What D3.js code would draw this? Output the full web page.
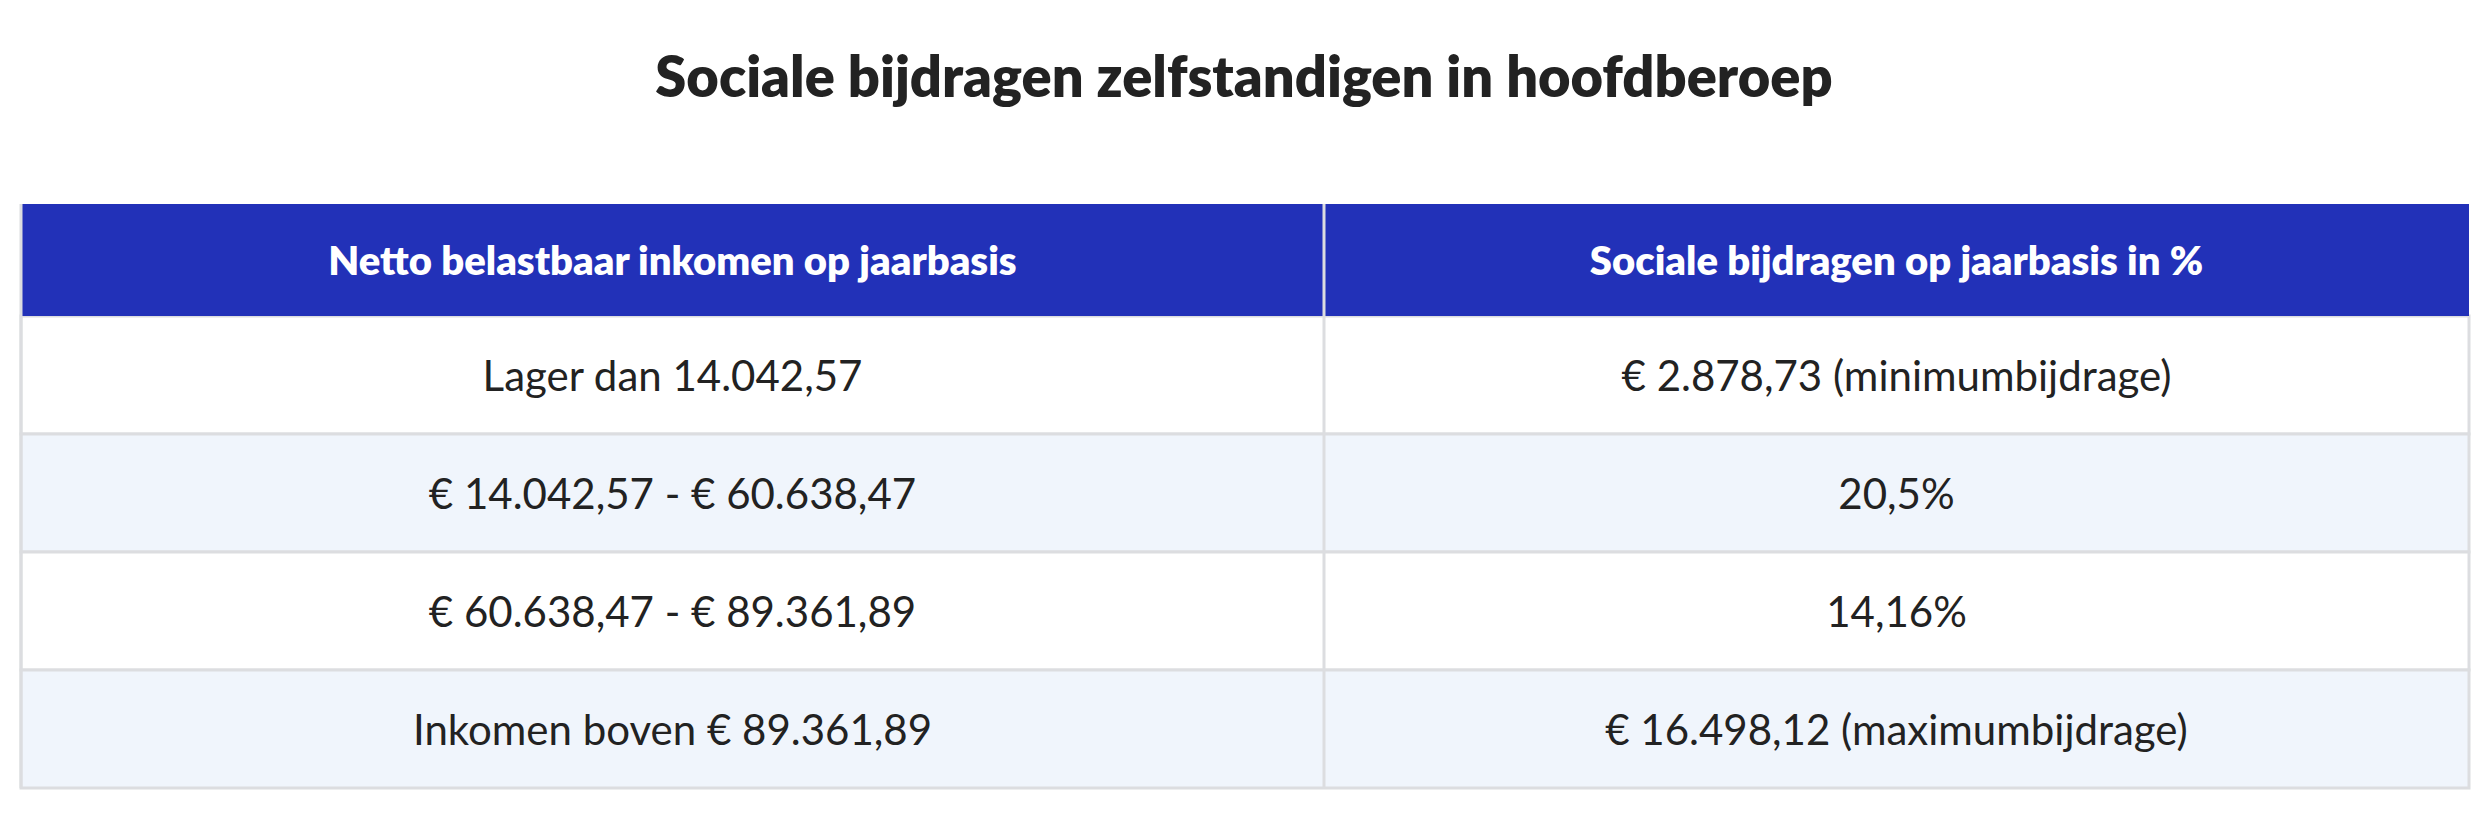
<!DOCTYPE html>
<html><head><meta charset="utf-8">
<script src="https://cdn.jsdelivr.net/npm/d3@7"></script>
<style>body{margin:0;background:#fff}</style></head>
<body><svg id="c" width="2488" height="832"></svg>
<script>
const title = "Sociale bijdragen zelfstandigen in hoofdberoep";
const columns = ["Netto belastbaar inkomen op jaarbasis", "Sociale bijdragen op jaarbasis in %"];
const incomeRanges = ["Lager dan 14.042,57", "€ 14.042,57 - € 60.638,47", "€ 60.638,47 - € 89.361,89", "Inkomen boven € 89.361,89"];
const contributions = ["€ 2.878,73 (minimumbijdrage)", "20,5%", "14,16%", "€ 16.498,12 (maximumbijdrage)"];

(function(){
const svg = d3.select("#c");
const font = "Lato, 'Open Sans', sans-serif";
const L = 21, R = 2469, T = 204, headH = 112, B = 788;
const xb = [L, 1324, R];
const y = d3.scaleBand().domain(d3.range(incomeRanges.length)).range([T + headH, B]);

svg.append("text").attr("x", 1244).attr("y", 75).attr("text-anchor", "middle").attr("dominant-baseline", "central")
  .attr("font-family", font).attr("font-weight", 800).attr("font-size", 56).attr("fill", "#222").text(title);

const rows = incomeRanges.map((r, i) => [r, contributions[i]]);
svg.selectAll("rect.row").data(rows).join("rect")
  .attr("x", L).attr("y", (d, i) => y(i)).attr("width", R - L).attr("height", y.bandwidth())
  .attr("fill", (d, i) => i % 2 ? "#f0f5fc" : "#ffffff").attr("stroke", "#dcdde0").attr("stroke-width", 3);
svg.append("rect").attr("x", L).attr("y", T).attr("width", R - L).attr("height", headH).attr("fill", "#2231b8");
svg.append("line").attr("x1", xb[1]).attr("x2", xb[1]).attr("y1", T).attr("y2", B).attr("stroke", "#dcdde0").attr("stroke-width", 3);
svg.append("line").attr("x1", L).attr("x2", L).attr("y1", T).attr("y2", B).attr("stroke", "#dcdde0").attr("stroke-width", 3);
svg.selectAll("text.h").data(columns).join("text")
  .attr("x", (d, i) => (xb[i] + xb[i + 1]) / 2).attr("y", T + headH / 2).attr("text-anchor", "middle").attr("dominant-baseline", "central")
  .attr("font-family", font).attr("font-weight", 800).attr("font-size", 40).attr("fill", "#fff").text(d => d);
rows.forEach((r, i) => {
  svg.selectAll(null).data(r).join("text")
    .attr("x", (d, j) => (xb[j] + xb[j + 1]) / 2).attr("y", y(i) + y.bandwidth() / 2)
    .attr("text-anchor", "middle").attr("dominant-baseline", "central")
    .attr("font-family", font).attr("font-size", 42).attr("fill", "#222").text(d => d);
});
})();
</script></body></html>
